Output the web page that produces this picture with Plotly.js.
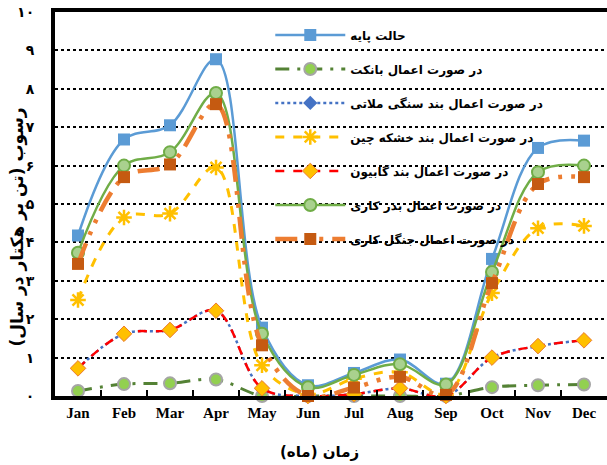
<!DOCTYPE html>
<html>
<head>
<meta charset="utf-8">
<script src="https://cdn.plot.ly/plotly-3.0.1.min.js"></script>
<style>html,body{margin:0;padding:0;background:#fff;}#chart{width:607px;height:465px;}</style>
</head>
<body>
<div id="chart"></div>
<script>
const months = ["Jan","Feb","Mar","Apr","May","Jun","Jul","Aug","Sep","Oct","Nov","Dec"];
const yTickVals = [0,1,2,3,4,5,6,7,8,9,10];
const yTickText = ["۰","۱","۲","۳","۴","۵","۶","۷","۸","۹","۱۰"];

const seriesNames = [
  "حالت پایه",
  "در صورت اعمال بانکت",
  "در صورت اعمال بند سنگی ملاتی",
  "در صورت اعمال بند خشکه چین",
  "در صورت اعمال بند گابیون",
  "در صورت اعمال بذر کاری",
  "در صورت اعمال جنگل کاری"
];

const base      = [4.18, 6.68, 7.05, 8.77, 1.78, 0.28, 0.6, 0.95, 0.32, 3.57, 6.46, 6.65];
const banket    = [0.13, 0.31, 0.33, 0.43, 0.0, 0.0, 0.0, 0.0, 0.0, 0.23, 0.28, 0.3];
const sangi     = [0.72, 1.62, 1.72, 2.22, 0.2, 0.0, 0.05, 0.2, 0.0, 1.0, 1.3, 1.45];
const khoshke   = [2.5, 4.65, 4.75, 5.95, 0.8, 0.05, 0.45, 0.62, 0.05, 2.68, 4.37, 4.43];
const gabion    = [0.72, 1.62, 1.72, 2.22, 0.2, 0.0, 0.05, 0.2, 0.0, 1.0, 1.3, 1.45];
const bazr      = [3.73, 6.0, 6.35, 7.89, 1.62, 0.23, 0.55, 0.83, 0.3, 3.23, 5.83, 6.0];
const jangal    = [3.44, 5.7, 6.03, 7.6, 1.32, 0.0, 0.22, 0.5, 0.03, 2.94, 5.52, 5.7];

function tr(name, y, line, marker, grp){
  return {x: months, y: y, name: name, type: 'scatter', mode: 'lines+markers',
    line: Object.assign({shape: 'spline', smoothing: 1}, line), marker: marker,
    legendgroup: grp, cliponaxis: false};
}

const data = [
  tr(seriesNames[0], base, {color:'#5B9BD5', width:2.5}, {symbol:'square', size:12, color:'#5B9BD5'}, 'g1'),
  tr(seriesNames[1], banket, {color:'#548235', width:3, dash:'14px,8px,3px,8px'}, {symbol:'circle', size:12, color:'#92D050', line:{color:'#A5A5A5', width:2}}, 'g2'),
  tr(seriesNames[2], sangi, {color:'#4472C4', width:2.5, dash:'dot'}, {symbol:'diamond', size:11, color:'#4472C4'}, 'g3'),
  tr(seriesNames[3], khoshke, {color:'#FFC000', width:3, dash:'dash'}, {symbol:'asterisk-open', size:13, color:'#FFC000', line:{color:'#FFC000', width:2.5}}, 'g4'),
  tr(seriesNames[4], gabion, {color:'#FF0000', width:2.5, dash:'dash'}, {symbol:'diamond', size:12, color:'#FFC000', line:{color:'#ED7D31', width:1}}, 'g5'),
  tr(seriesNames[5], bazr, {color:'#70AD47', width:2.5}, {symbol:'circle', size:12, color:'#A9D18E', line:{color:'#70AD47', width:2}}, 'g6'),
  tr(seriesNames[6], jangal, {color:'#ED7D31', width:4.5, dash:'22px,9px,4px,9px,4px,9px'}, {symbol:'square', size:12, color:'#C55A11'}, 'g7')
];

const persianFont = '"DejaVu Sans", "Noto Sans", sans-serif';

const layout = {
  width: 607, height: 465,
  margin: {l: 55, r: 0, t: 12, b: 69},
  paper_bgcolor: '#fff', plot_bgcolor: '#fff',
  showlegend: true,
  legend: {
    x: 0.39, y: 0.978, xanchor: 'left', yanchor: 'top',
    bgcolor: 'rgba(0,0,0,0)', borderwidth: 0,
    font: {family: persianFont, size: 12, color: '#000', weight: 'bold'},
    itemwidth: 70, tracegroupgap: 15, traceorder: 'grouped'
  },
  xaxis: {
    type: 'category', range: [-0.5, 11.5],
    showline: true, linecolor: '#000', linewidth: 4, mirror: true,
    ticks: 'inside', tickson: 'boundaries', ticklen: 6, tickwidth: 2, tickcolor: '#000',
    showgrid: false, zeroline: false,
    tickfont: {family: '"Liberation Serif", "Times New Roman", serif', size: 15, color: '#000', weight: 'bold'}
  },
  yaxis: {
    range: [0, 10], tickvals: yTickVals, ticktext: yTickText,
    showline: true, linecolor: '#000', linewidth: 4,
    ticks: '', ticklabelstandoff: 14,
    showgrid: true, gridcolor: '#000', gridwidth: 2, griddash: 'dot',
    zeroline: false,
    tickfont: {family: persianFont, size: 14, color: '#000', weight: 'bold'}
  },
  annotations: [
    {text: 'رسوب (تن بر هکتار در سال)', xref: 'paper', yref: 'paper', x: -0.068, y: 0.44,
     textangle: -90, showarrow: false, xanchor: 'center', yanchor: 'middle',
     font: {family: persianFont, size: 17, color: '#000', weight: 'bold'}},
    {text: 'زمان (ماه)', xref: 'paper', yref: 'paper', x: 0.48, y: -0.145,
     showarrow: false, xanchor: 'center', yanchor: 'middle',
     font: {family: persianFont, size: 15, color: '#000', weight: 'bold'}}
  ]
};

Plotly.newPlot('chart', data, layout, {displayModeBar: false, staticPlot: true});
</script>
</body>
</html>
